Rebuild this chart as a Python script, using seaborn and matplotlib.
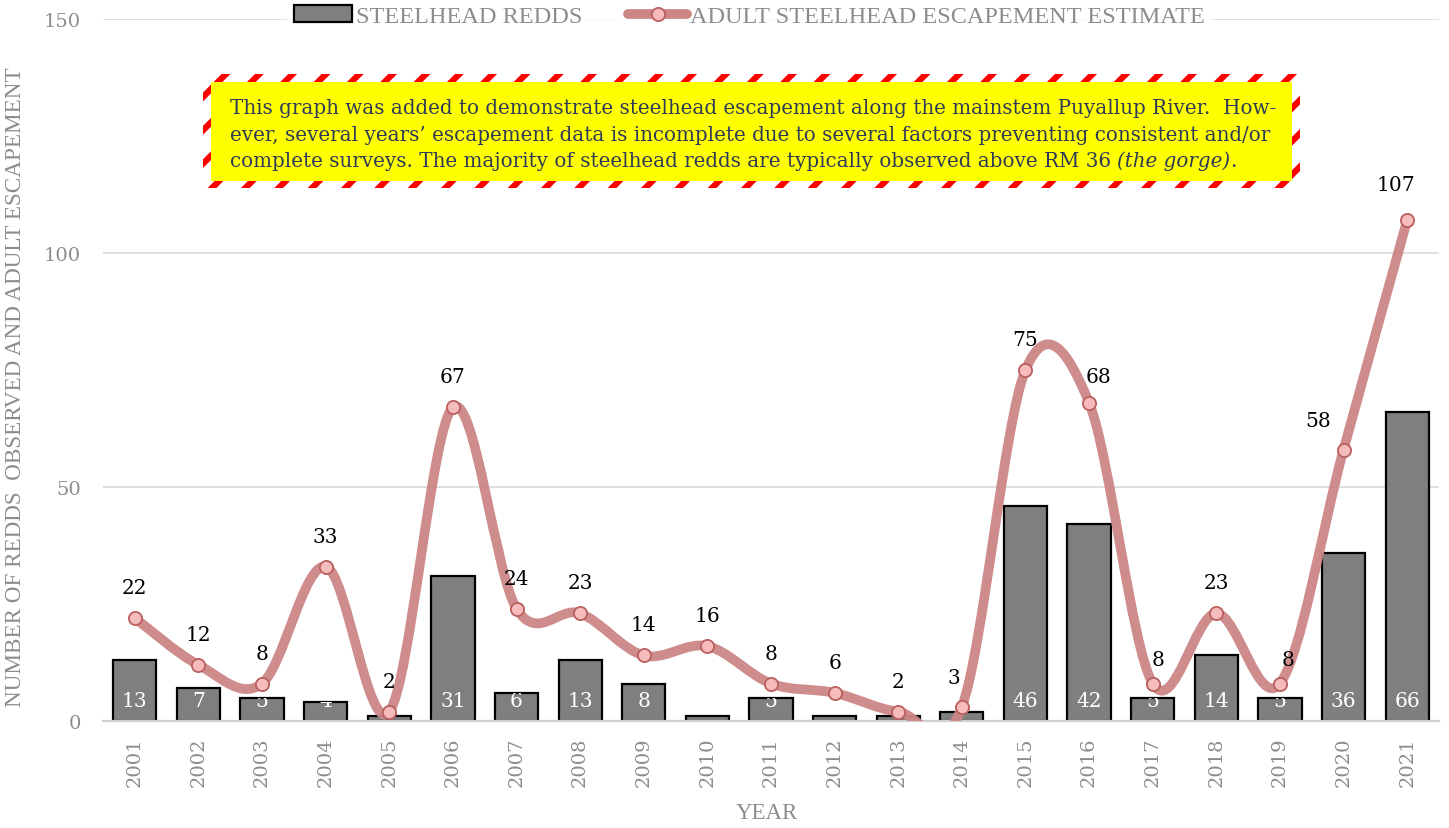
import matplotlib
matplotlib.use("Agg")
import matplotlib.pyplot as plt
import numpy as np
import pandas as pd
import seaborn as sns
from matplotlib.lines import Line2D
from matplotlib.patches import Patch, PathPatch, Rectangle
from matplotlib.path import Path

years = ["2001", "2002", "2003", "2004", "2005", "2006", "2007", "2008", "2009", "2010", "2011",
         "2012", "2013", "2014", "2015", "2016", "2017", "2018", "2019", "2020", "2021"]
redds = [13, 7, 5, 4, 1, 31, 6, 13, 8, 1, 5, 1, 1, 2, 46, 42, 5, 14, 5, 36, 66]
escapement = [22, 12, 8, 33, 2, 67, 24, 23, 14, 16, 8, 6, 2, 3, 75, 68, 8, 23, 8, 58, 107]

note_lines = [
    "This graph was added to demonstrate steelhead escapement along the mainstem Puyallup River.  How-",
    "ever, several years\u2019 escapement data is incomplete due to several factors preventing consistent and/or",
    "complete surveys. The majority of steelhead redds are typically observed above RM 36 ",
]
note_italic = "(the gorge)"

# label nudges (points) for the escapement labels that sit off-centre
label_nudge = {"2014": (-6, 21), "2016": (7, 19), "2017": (4, 17), "2019": (6, 17),
               "2020": (-18, 21), "2021": (-8, 26)}

GRAY = "#8c8c8c"
LINE = "#cc8686"
NAVY = "#2e3b55"


def smooth_path(xs, ys):
    # Catmull-Rom style bezier through the points (Excel "smoothed line")
    pts = np.column_stack([xs, ys]).astype(float)
    n = len(pts)
    verts = [tuple(pts[0])]
    codes = [Path.MOVETO]
    for i in range(n - 1):
        p0 = pts[max(i - 1, 0)]
        p1 = pts[i]
        p2 = pts[i + 1]
        p3 = pts[min(i + 2, n - 1)]
        verts += [tuple(p1 + (p2 - p0) / 6), tuple(p2 - (p3 - p1) / 6), tuple(p2)]
        codes += [Path.CURVE4] * 3
    return Path(verts, codes)


sns.set_theme(style="white")
plt.rcParams["font.family"] = ["DejaVu Serif"]
plt.rcParams["hatch.linewidth"] = 4.5

df = pd.DataFrame({"year": years, "redds": redds, "escapement": escapement})

fig, ax = plt.subplots(figsize=(14.49, 8.29), dpi=100)
fig.subplots_adjust(left=103 / 1449, right=1439 / 1449, bottom=1 - 722 / 829, top=1 - 20 / 829)

sns.barplot(data=df, x="year", y="redds", color="#7f7f7f", saturation=1,
            edgecolor="black", linewidth=1.6, width=0.68, ax=ax, zorder=2)
bars = list(ax.patches)

# white value labels at the inside base of each bar, clipped to the bar
for bar, val in zip(bars, redds):
    t = ax.annotate(str(val), xy=(bar.get_x() + bar.get_width() / 2, 0), xytext=(0, 11),
                    textcoords="offset points", ha="center", va="baseline",
                    color="white", fontsize=14.5, zorder=3, clip_on=True)
    t.set_clip_path(bar)

xpos = np.arange(len(years))
ax.add_patch(PathPatch(smooth_path(xpos, escapement), fill=False, edgecolor=LINE, lw=7,
                       alpha=0.95, capstyle="round", joinstyle="round", zorder=4))
ax.plot(xpos, escapement, "o", ms=9.5, mfc="#f6bcbc", mec="#b9605e", mew=1.3, zorder=5)

for x, yr, val in zip(xpos, years, escapement):
    dx, dy = label_nudge.get(yr, (0, 22))
    ax.annotate(str(val), xy=(x, val), xytext=(dx, dy), textcoords="offset points",
                ha="center", va="center", fontsize=14.5, color="black", zorder=6)

ax.set_ylim(0, 150)
ax.set_xlim(-0.5, len(years) - 0.5)
ax.set_yticks([0, 50, 100, 150])
ax.yaxis.grid(True, color="#dcdcdc", lw=1.3)
ax.xaxis.grid(False)
ax.set_axisbelow(True)
for side in ["left", "right", "top"]:
    ax.spines[side].set_visible(False)
ax.spines["bottom"].set_color("#d0d0d0")
ax.spines["bottom"].set_linewidth(1.6)

ax.set_xticks(np.arange(-0.5, len(years)), minor=True)
ax.tick_params(axis="x", which="minor", direction="inout", length=9.5, width=1.5, color="#d0d0d0")
ax.tick_params(axis="x", which="major", length=0, pad=11, labelsize=14, labelcolor=GRAY,
               labelrotation=90)
ax.tick_params(axis="y", length=0, pad=16, labelsize=14, labelcolor=GRAY)

ax.set_xlabel("YEAR", fontsize=16.5, color=GRAY, family="Liberation Serif")
ax.xaxis.set_label_coords(0.497, -0.116)
ax.set_ylabel("NUMBER OF REDDS  OBSERVED AND ADULT ESCAPEMENT", fontsize=16.7, color=GRAY,
              family="Liberation Serif")
ax.yaxis.set_label_coords(-0.058, 0.477)

handles = [
    Patch(facecolor="#7f7f7f", edgecolor="black", lw=1.6),
    Line2D([], [], color=LINE, lw=7, marker="o", ms=9.5, mfc="#f6bcbc", mec="#b9605e", mew=1.3),
]
leg = ax.legend(handles, ["STEELHEAD REDDS", "ADULT STEELHEAD ESCAPEMENT ESTIMATE"], ncol=2,
                loc="center", bbox_to_anchor=(0.484, 1.004), frameon=True, fancybox=False,
                handlelength=2.4, handletextpad=0.15, columnspacing=1.9, borderpad=0.3,
                prop={"family": "Liberation Serif", "size": 17.5})
leg.get_frame().set_facecolor("white")
leg.get_frame().set_edgecolor("white")
for txt in leg.get_texts():
    txt.set_color(GRAY)

# yellow note box with red/white striped border
ax.add_patch(Rectangle((100 / 1336, (722 - 189) / 702), 1097 / 1336, 114 / 702,
                       transform=ax.transAxes, facecolor="white", edgecolor="red",
                       hatch="/", lw=0, zorder=7))
ax.add_patch(Rectangle((108 / 1336, (722 - 182) / 702), 1081 / 1336, 99 / 702,
                       transform=ax.transAxes, facecolor="#ffff00", edgecolor="none", zorder=8))
note_y = [0.866, 0.828, 0.791]
last = None
for line, y in zip(note_lines, note_y):
    last = ax.text(0.095, y, line, transform=ax.transAxes, fontsize=14.3, color=NAVY,
                   ha="left", va="baseline", zorder=9)
ital = ax.annotate(note_italic, xy=(1, 0), xycoords=last, ha="left", va="bottom",
                   fontsize=14.3, color=NAVY, style="italic", zorder=9)
ax.annotate(".", xy=(1, 0), xycoords=ital, ha="left", va="bottom", fontsize=14.3,
            color=NAVY, zorder=9)

fig.savefig("out.png", dpi=100)
